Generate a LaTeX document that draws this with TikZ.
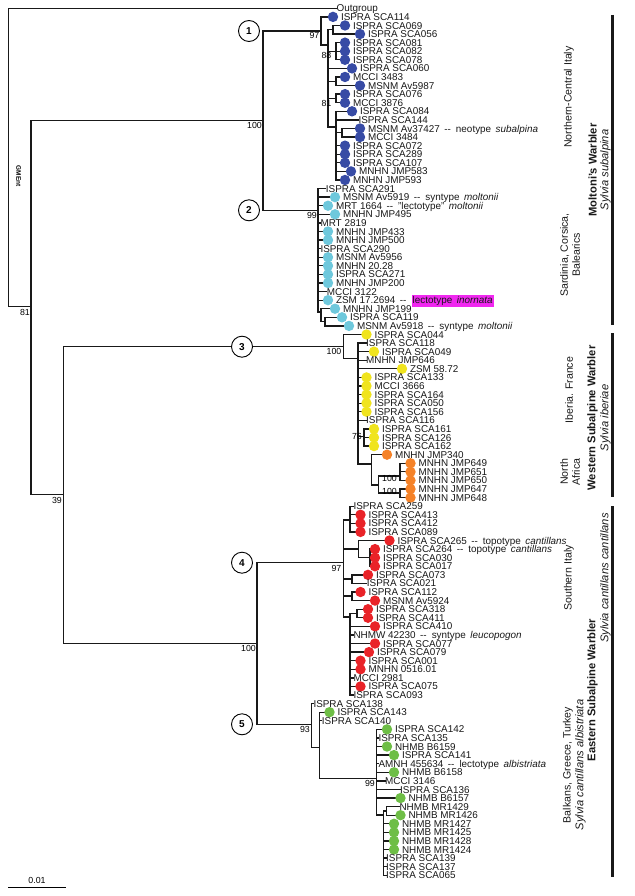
\documentclass[tikz,border=0pt]{standalone}
\usepackage{fontspec}
\setmainfont{Liberation Sans}
\usetikzlibrary{backgrounds}
\definecolor{cb}{RGB}{55,75,165}
\definecolor{cc}{RGB}{110,200,220}
\definecolor{cy}{RGB}{240,228,30}
\definecolor{co}{RGB}{245,130,40}
\definecolor{cr}{RGB}{233,35,40}
\definecolor{cg}{RGB}{110,190,70}
\definecolor{mag}{RGB}{240,40,240}
\newcommand{\leaffont}{\fontsize{9.9}{9.9}\selectfont}
\newcommand{\supfont}{\fontsize{8.8}{8.8}\selectfont}
\newcommand{\numfont}{\fontsize{10}{10}\selectfont\bfseries}
\newcommand{\regfont}{\fontsize{10.6}{12}\selectfont}
\newcommand{\spfont}{\fontsize{11.2}{12}\selectfont}
\newcommand{\RY}[1]{8.3+8.584*#1}
\newcommand{\leafd}[5]{\node[dot,fill=#4] (#1) at (#3,{\RY{#2}}) {};
  \node[lab] (#1t) at ([xshift=2.4pt]#1.east) {#5};}
\newcommand{\leaft}[4]{\coordinate (#1) at (#3,{\RY{#2}});
  \node[lab] (#1t) at (#1) {#4};}
\newcommand{\ann}[2]{\hspace{4.5pt}-{}-\hspace{5pt}#1\hspace{4.5pt}\textit{#2}}
\newcommand{\hlbox}[1]{{\setlength{\fboxsep}{1.2pt}\colorbox{mag}{#1}}}
\newcommand{\kids}[2]{\foreach \kidname in {#2}{\draw[tree] (#1) |- (\kidname);}}
\begin{document}
\begin{tikzpicture}[x=1pt,y=-1pt,
 tree/.style={line width=1.3pt, line join=miter, line cap=rect, draw=black!90},
 dot/.style={circle, inner sep=0pt, minimum size=10.4pt, draw=none},
 lab/.style={anchor=west, inner sep=0pt, text height=7.1pt, text depth=0pt, font=\leaffont, text=black!90},
 sup/.style={anchor=north east, inner sep=0pt, font=\supfont},
 num/.style={circle, draw, line width=0.9pt, fill=white, minimum size=21pt, inner sep=0pt, font=\numfont},
 bar/.style={line width=3pt, draw=black!90},
 reg/.style={rotate=90, font=\regfont, align=center, inner sep=0pt, text=black!90},
 spb/.style={rotate=90, font=\spfont\bfseries, inner sep=0pt, text=black!90},
 spi/.style={rotate=90, font=\spfont\itshape, inner sep=0pt, text=black!90}]
\useasboundingbox (0,0) rectangle (634,896);

% ---------- internal nodes
\coordinate (root) at (8.3,306.7);
\coordinate (R2) at (31,306.7);
\coordinate (N12) at (263,120.7);
\coordinate (R3) at (63.3,494.7);
\coordinate (F) at (257,643.3);
\coordinate (C1) at (321,31);
\coordinate (B) at (328,45);
\coordinate (b1) at (333,29.8);
\coordinate (b2) at (336,51.2);
\coordinate (b3) at (336,81.3);
\coordinate (b4) at (336,98.4);
\coordinate (C) at (336,127);
\coordinate (c1) at (342,132.8);
\coordinate (D) at (318,210.3);
\coordinate (d2) at (321,312);
\coordinate (d3) at (325,321.6);
\coordinate (E) at (343.3,346.7);
\coordinate (E2) at (358,358.3);
\coordinate (Y76) at (364,436.7);
\coordinate (O) at (371.7,464);
\coordinate (O2) at (378.3,485);
\coordinate (O3) at (400,476);
\coordinate (O4) at (400,493);
\coordinate (G) at (343.3,562.7);
\coordinate (g1) at (350,520);
\coordinate (g2a) at (358.3,549);
\coordinate (g2b) at (370,557.7);
\coordinate (g3) at (352,579);
\coordinate (g4) at (352,596);
\coordinate (g5) at (350,617);
\coordinate (g5a) at (357,613.5);
\coordinate (H) at (311.7,724.3);
\coordinate (H2) at (319.3,747.3);
\coordinate (K) at (376.7,778.3);
\coordinate (K2) at (383.3,815);
\coordinate (K3) at (386.7,811);

% ---------- leaves
\leaft{og}{0}{336.5}{Outgroup}
\leafd{L1}{1}{333}{cb}{ISPRA SCA114}
\leafd{L2}{2}{345}{cb}{ISPRA SCA069}
\leafd{L3}{3}{360}{cb}{ISPRA SCA056}
\leafd{L4}{4}{345}{cb}{ISPRA SCA081}
\leafd{L5}{5}{345}{cb}{ISPRA SCA082}
\leafd{L6}{6}{345}{cb}{ISPRA SCA078}
\leafd{L7}{7}{352}{cb}{ISPRA SCA060}
\leafd{L8}{8}{345}{cb}{MCCI 3483}
\leafd{L9}{9}{360}{cb}{MSNM Av5987}
\leafd{L10}{10}{345}{cb}{ISPRA SCA076}
\leafd{L11}{11}{345}{cb}{MCCI 3876}
\leafd{L12}{12}{352}{cb}{ISPRA SCA084}
\leaft{L13}{13}{358.3}{ISPRA SCA144}
\leafd{L14}{14}{360}{cb}{MSNM Av37427\ann{neotype}{subalpina}}
\leafd{L15}{15}{360}{cb}{MCCI 3484}
\leafd{L16}{16}{345}{cb}{ISPRA SCA072}
\leafd{L17}{17}{345}{cb}{ISPRA SCA289}
\leafd{L18}{18}{345}{cb}{ISPRA SCA107}
\leafd{L19}{19}{351}{cb}{MNHN JMP583}
\leafd{L20}{20}{345}{cb}{MNHN JMP593}
\leaft{L21}{21}{325.7}{ISPRA SCA291}
\leafd{L22}{22}{335}{cc}{MSNM Av5919\ann{syntype}{moltonii}}
\leafd{L23}{23}{328}{cc}{MRT 1664\ann{"lectotype"}{moltonii}}
\leafd{L24}{24}{335}{cc}{MNHN JMP495}
\leaft{L25}{25}{320.3}{MRT 2819}
\leafd{L26}{26}{328}{cc}{MNHN JMP433}
\leafd{L27}{27}{328}{cc}{MNHN JMP500}
\leaft{L28}{28}{320.3}{ISPRA SCA290}
\leafd{L29}{29}{328}{cc}{MSNM Av5956}
\leafd{L30}{30}{328}{cc}{MNHN 20.28}
\leafd{L31}{31}{328}{cc}{ISPRA SCA271}
\leafd{L32}{32}{328}{cc}{MNHN JMP200}
\leaft{L33}{33}{326.7}{MCCI 3122}
\leafd{L34}{34}{328}{cc}{ZSM 17.2694\hspace{4.5pt}-{}-\hspace{5pt}\hlbox{lectotype\hspace{4.5pt}\textit{inornata}}}
\leafd{L35}{35}{335}{cc}{MNHN JMP199}
\leafd{L36}{36}{342}{cc}{ISPRA SCA119}
\leafd{L37}{37}{349}{cc}{MSNM Av5918\ann{syntype}{moltonii}}
\leafd{L38}{38}{366.5}{cy}{ISPRA SCA044}
\leaft{L39}{39}{366}{ISPRA SCA118}
\leafd{L40}{40}{374}{cy}{ISPRA SCA049}
\leaft{L41}{41}{366}{MNHN JMP646}
\leafd{L42}{42}{402}{cy}{ZSM 58.72}
\leafd{L43}{43}{366.5}{cy}{ISPRA SCA133}
\leafd{L44}{44}{366.5}{cy}{MCCI 3666}
\leafd{L45}{45}{366.5}{cy}{ISPRA SCA164}
\leafd{L46}{46}{366.5}{cy}{ISPRA SCA050}
\leafd{L47}{47}{366.5}{cy}{ISPRA SCA156}
\leaft{L48}{48}{366}{ISPRA SCA116}
\leafd{L49}{49}{374}{cy}{ISPRA SCA161}
\leafd{L50}{50}{374}{cy}{ISPRA SCA126}
\leafd{L51}{51}{374}{cy}{ISPRA SCA162}
\leafd{L52}{52}{387}{co}{MNHN JMP340}
\leafd{L53}{53}{410.5}{co}{MNHN JMP649}
\leafd{L54}{54}{410.5}{co}{MNHN JMP651}
\leafd{L55}{55}{410.5}{co}{MNHN JMP650}
\leafd{L56}{56}{410.5}{co}{MNHN JMP647}
\leafd{L57}{57}{410.5}{co}{MNHN JMP648}
\leaft{L58}{58}{353.3}{ISPRA SCA259}
\leafd{L59}{59}{360.5}{cr}{ISPRA SCA413}
\leafd{L60}{60}{360.5}{cr}{ISPRA SCA412}
\leafd{L61}{61}{360.5}{cr}{ISPRA SCA089}
\leafd{L62}{62}{389.5}{cr}{ISPRA SCA265\ann{topotype}{cantillans}}
\leafd{L63}{63}{375}{cr}{ISPRA SCA264\ann{topotype}{cantillans}}
\leafd{L64}{64}{375}{cr}{ISPRA SCA030}
\leafd{L65}{65}{375}{cr}{ISPRA SCA017}
\leafd{L66}{66}{368}{cr}{ISPRA SCA073}
\leaft{L67}{67}{366.7}{ISPRA SCA021}
\leafd{L68}{68}{360.5}{cr}{ISPRA SCA112}
\leafd{L69}{69}{375}{cr}{MSNM Av5924}
\leafd{L70}{70}{368}{cr}{ISPRA SCA318}
\leafd{L71}{71}{368}{cr}{ISPRA SCA411}
\leafd{L72}{72}{375}{cr}{ISPRA SCA410}
\leaft{L73}{73}{353.3}{NHMW 42230\ann{syntype}{leucopogon}}
\leafd{L74}{74}{375}{cr}{ISPRA SCA077}
\leafd{L75}{75}{369}{cr}{ISPRA SCA079}
\leafd{L76}{76}{360.5}{cr}{ISPRA SCA001}
\leafd{L77}{77}{360.5}{cr}{MNHN 0516.01}
\leaft{L78}{78}{353.3}{MCCI 2981}
\leafd{L79}{79}{360.5}{cr}{ISPRA SCA075}
\leaft{L80}{80}{353.3}{ISPRA SCA093}
\leaft{L81}{81}{313.3}{ISPRA SCA138}
\leafd{L82}{82}{329.5}{cg}{ISPRA SCA143}
\leaft{L83}{83}{321.7}{ISPRA SCA140}
\leafd{L84}{84}{387}{cg}{ISPRA SCA142}
\leaft{L85}{85}{378.3}{ISPRA SCA135}
\leafd{L86}{86}{387}{cg}{NHMB B6159}
\leafd{L87}{87}{394}{cg}{ISPRA SCA141}
\leaft{L88}{88}{378.3}{AMNH 455634\ann{lectotype}{albistriata}}
\leafd{L89}{89}{394}{cg}{NHMB B6158}
\leaft{L90}{90}{385}{MCCI 3146}
\leaft{L91}{91}{400}{ISPRA SCA136}
\leafd{L92}{92}{400.5}{cg}{NHMB B6157}
\leaft{L93}{93}{399.3}{NHMB MR1429}
\leafd{L94}{94}{400.5}{cg}{NHMB MR1426}
\leafd{L95}{95}{394}{cg}{NHMB MR1427}
\leafd{L96}{96}{394}{cg}{NHMB MR1425}
\leafd{L97}{97}{394}{cg}{NHMB MR1428}
\leafd{L98}{98}{394}{cg}{NHMB MR1424}
\leaft{L99}{99}{386}{ISPRA SCA139}
\leaft{L100}{100}{386}{ISPRA SCA137}
\leaft{L101}{101}{386}{ISPRA SCA065}

% ---------- branches
\begin{pgfonlayer}{background}
\kids{root}{og,R2}
\kids{R2}{N12,R3}
\kids{N12}{C1,D}
\kids{R3}{E,F}
\kids{F}{G,H}
\kids{C1}{L1,B}
\kids{B}{b1,b2,L7,b3,b4,C}
\kids{b1}{L2,L3}
\kids{b2}{L4,L5,L6}
\kids{b3}{L8,L9}
\kids{b4}{L10,L11}
\kids{C}{L12,L13,c1,L16,L17,L18,L19,L20}
\kids{c1}{L14,L15}
\kids{D}{L21,L22,L23,L24,L25,L26,L27,L28,L29,L30,L31,L32,L33,L34,d2}
\kids{d2}{L35,d3}
\kids{d3}{L36,L37}
\kids{E}{L38,E2}
\kids{E2}{L39,L40,L41,L42,L43,L44,L45,L46,L47,L48,Y76,O}
\kids{Y76}{L49,L50,L51}
\kids{O}{L52,O2}
\kids{O2}{O3,O4}
\kids{O3}{L53,L54,L55}
\kids{O4}{L56,L57}
\kids{G}{g1,g2a,g3,g4,g5}
\kids{g1}{L58,L59,L60,L61}
\kids{g2a}{L62,g2b}
\kids{g2b}{L63,L64,L65}
\kids{g3}{L66,L67}
\kids{g4}{L68,L69}
\kids{g5}{g5a,L72,L73,L74,L75,L76,L77,L78,L79,L80}
\kids{g5a}{L70,L71}
\kids{H}{L81,H2}
\kids{H2}{L82,L83,K}
\kids{K}{L84,L85,L86,L87,L88,L89,L90,L91,L92,K2}
\kids{K2}{K3,L95,L96,L97,L98,L99,L100,L101}
\kids{K3}{L93,L94}
\end{pgfonlayer}

% ---------- support values
\node[sup] (s1) at (30,309) {81};
\node[sup] (s2) at (62,497) {39};
\node[sup] (s3) at (262,122.5) {100};
\node[sup] (s4) at (319.5,32.5) {97};
\node[sup] (s5) at (331.5,51.8) {88};
\node[sup] (s6) at (331.5,100) {81};
\node[sup] (s7) at (317,212) {99};
\node[sup] (s8) at (341.5,348.5) {100};
\node[sup] (s9) at (362,433.5) {76};
\node[sup] (s10) at (397,475.5) {100};
\node[sup] (s11) at (397,488.5) {100};
\node[sup] (s12) at (341.5,565) {97};
\node[sup] (s13) at (256,645) {100};
\node[sup] (s14) at (310,726.5) {93};
\node[sup] (s15) at (375,780.5) {99};

% ---------- clade numbers
\node[num] (n1) at (249,31) {1};
\node[num] (n2) at (249,210.3) {2};
\node[num] (n3) at (242,346.7) {3};
\node[num] (n4) at (242,562.7) {4};
\node[num] (n5) at (242,724.3) {5};

% ---------- root tag and scale bar
\node[rotate=-90, inner sep=0pt, font=\fontsize{6.5}{7}\selectfont\bfseries] (rtag) at (18.5,176) {GMEnt};
\coordinate (sb1) at (8.3,887.3);
\coordinate (sb2) at (65.7,887.3);
\draw[line width=1pt] (sb1) -- (sb2);
\node[inner sep=0pt, font=\fontsize{8.8}{8.8}\selectfont] (sbt) at (37,880) {0.01};

% ---------- right-hand bars and labels
\coordinate (ba1) at (612,15);  \coordinate (bb1) at (612,325);
\coordinate (ba2) at (612,333); \coordinate (bb2) at (612,497);
\coordinate (ba3) at (612,506); \coordinate (bb3) at (612,877);
\draw[bar] (ba1) -- (bb1);
\draw[bar] (ba2) -- (bb2);
\draw[bar] (ba3) -- (bb3);
\node[reg] (r1) at (569,97) {Northern-Central Italy};
\node[reg] (r2) at (570,255) {Sardinia, Corsica,\\Balearics};
\node[spb] (r3) at (592.5,170) {Moltoni's Warbler};
\node[spi] (r4) at (605.5,170) {Sylvia subalpina};
\node[reg] (r5) at (569,390) {Iberia. France};
\node[reg] (r6) at (570,472) {North\\Africa};
\node[spb] (r7) at (592.5,418) {Western Subalpine Warbler};
\node[spi] (r8) at (605.5,418) {Sylvia iberiae};
\node[reg] (r9) at (569,578) {Southern Italy};
\node[spi] (r10) at (605.5,578) {Sylvia cantillans cantillans};
\node[spb] (r11) at (592.5,690) {Eastern Subalpine Warbler};
\node[spi] (r12) at (580.5,765) {Sylvia cantillans albistriata};
\node[reg] (r13) at (568,765) {Balkans, Greece, Turkey};
\end{tikzpicture}
\end{document}
